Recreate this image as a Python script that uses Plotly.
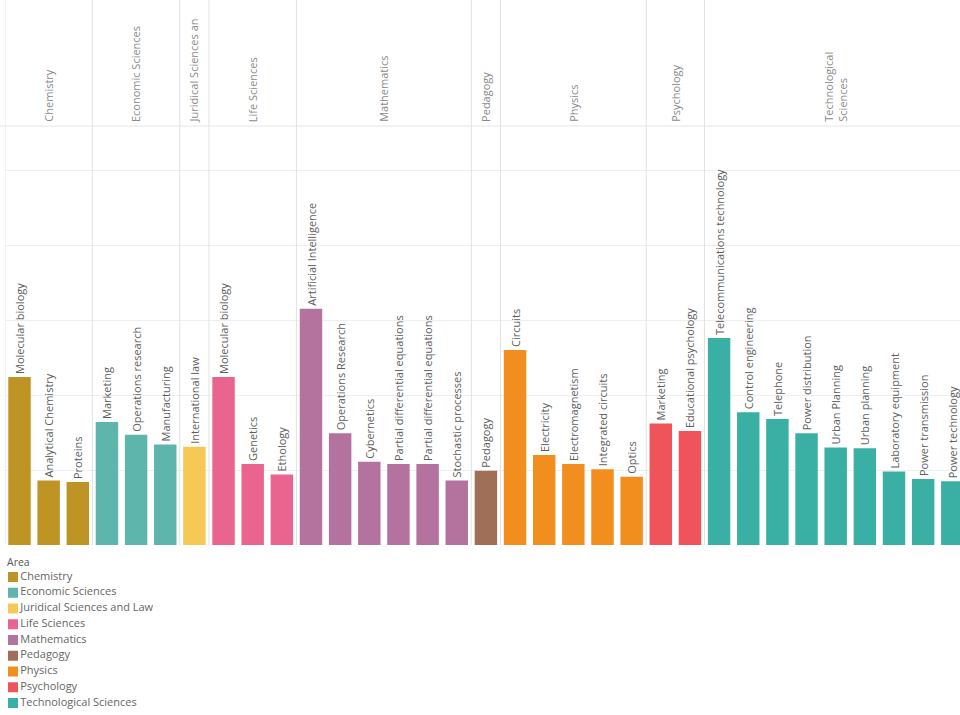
import plotly.graph_objects as go

# ---- data ----
areas = ["Chemistry", "Economic Sciences", "Juridical Sciences and Law", "Life Sciences",
         "Mathematics", "Pedagogy", "Physics", "Psychology", "Technological Sciences"]
area_headers = ["Chemistry", "Economic Sciences", "Juridical Sciences an", "Life Sciences",
                "Mathematics", "Pedagogy", "Physics", "Psychology", "Technological<br>Sciences"]
area_colors = ["#BE9524", "#5DB5AB", "#F6C957", "#E9658F", "#B4739F",
               "#A06F57", "#F28E1E", "#EE5459", "#3AAFA3"]

fields = ["Molecular biology", "Analytical Chemistry", "Proteins",
          "Marketing", "Operations research", "Manufacturing",
          "International law",
          "Molecular biology", "Genetics", "Ethology",
          "Artificial Intelligence", "Operations Research", "Cybernetics",
          "Partial differential equations", "Partial differential equations", "Stochastic processes",
          "Pedagogy",
          "Circuits", "Electricity", "Electromagnetism", "Integrated circuits", "Optics",
          "Marketing", "Educational psychology",
          "Telecommunications technology", "Control engineering", "Telephone", "Power distribution",
          "Urban Planning", "Urban planning", "Laboratory equipment", "Power transmission",
          "Power technology"]
field_area = (["Chemistry"] * 3 + ["Economic Sciences"] * 3 + ["Juridical Sciences and Law"]
              + ["Life Sciences"] * 3 + ["Mathematics"] * 6 + ["Pedagogy"] + ["Physics"] * 5
              + ["Psychology"] * 2 + ["Technological Sciences"] * 9)
values = [22.4, 8.6, 8.4,
          16.4, 14.7, 13.4,
          13.1,
          22.4, 10.8, 9.4,
          31.5, 14.9, 11.1, 10.8, 10.8, 8.6,
          9.9,
          26.0, 12.0, 10.8, 10.1, 9.1,
          16.2, 15.2,
          27.6, 17.7, 16.8, 14.9, 13.0, 12.9, 9.8, 8.8, 8.5]

FONT = "Open Sans"
W, H = 960, 715
base_px, top_px = 545, 126
y_bottom = (H - base_px) / H
y_top = (H - top_px) / H

fig = go.Figure()

for area, color in zip(areas, area_colors):
    idx = [i for i, a in enumerate(field_area) if a == area]
    fig.add_trace(go.Bar(
        x=idx, y=[values[i] for i in idx],
        text=[fields[i] for i in idx],
        textposition="outside", textangle=-90, constraintext="none",
        textfont=dict(family=FONT, size=11, color="#5e5e5e"),
        marker=dict(color=color, line=dict(width=0)),
        width=0.77, name=area, showlegend=False, cliponaxis=False,
        hoverinfo="x+y+name",
    ))

shapes = []
annotations = []
shapes.append(dict(type="line", xref="x", yref="paper", x0=-0.5, x1=-0.5,
                   y0=y_bottom, y1=1, line=dict(color="#e2e2e2", width=1)))
for area, header in zip(areas, area_headers):
    idx = [i for i, a in enumerate(field_area) if a == area]
    lo, hi = min(idx), max(idx)
    if area != areas[-1]:
        shapes.append(dict(type="line", xref="x", yref="paper", x0=hi + 0.5, x1=hi + 0.5,
                           y0=y_bottom, y1=1, line=dict(color="#e2e2e2", width=1)))
    annotations.append(dict(
        x=(lo + hi) / 2, y=(H - 124) / H, xref="x", yref="paper",
        text=header, textangle=-90, showarrow=False, align="left",
        xanchor="center", yanchor="bottom",
        font=dict(family=FONT, size=11, color="#8a8a8a"),
    ))
shapes.append(dict(type="line", xref="paper", yref="paper", x0=0, x1=1,
                   y0=y_top, y1=y_top, line=dict(color="#e6e6e6", width=1)))

# legend built as a scatter on its own axes
leg_x = [13] * len(areas)
leg_y = list(range(len(areas)))
fig.add_trace(go.Scatter(
    x=leg_x, y=leg_y, mode="markers+text",
    marker=dict(symbol="square", size=10, color=area_colors, line=dict(width=0)),
    text=areas, textposition="middle right",
    textfont=dict(family=FONT, size=11, color="#666666"),
    xaxis="x2", yaxis="y2", showlegend=False, hoverinfo="text",
))
annotations.append(dict(x=5, y=-0.95, xref="x2", yref="y2", text="Area", showarrow=False,
                        xanchor="left", yanchor="middle",
                        font=dict(family=FONT, size=10.5, color="#555555")))

x_left = (5 - 19.5) / 29.15
x_right = (960 - 19.5) / 29.15
leg_dom_top = 0.23
leg_top_px = H - leg_dom_top * H

fig.update_layout(
    width=W, height=H,
    margin=dict(l=0, r=0, t=0, b=0),
    paper_bgcolor="white", plot_bgcolor="white",
    barmode="overlay",
    shapes=shapes, annotations=annotations,
    xaxis=dict(domain=[5 / W, 1], range=[x_left, x_right], showticklabels=False,
               showgrid=False, zeroline=False, ticks="", fixedrange=True),
    yaxis=dict(domain=[y_bottom, y_top], range=[0, (base_px - top_px) / 7.5],
               dtick=10, showgrid=True, gridcolor="#efefef", gridwidth=1,
               showticklabels=False, zeroline=False, ticks=""),
    xaxis2=dict(domain=[0, 0.3], range=[0, 0.3 * W], visible=False, anchor="y2"),
    yaxis2=dict(domain=[0, leg_dom_top],
                range=[(H - 577) / 15.75, (leg_top_px - 577) / 15.75],
                visible=False, anchor="x2"),
    font=dict(family=FONT),
)

fig.write_html("out.html", config={"displayModeBar": False},
               post_script="document.body.style.margin='0';")
